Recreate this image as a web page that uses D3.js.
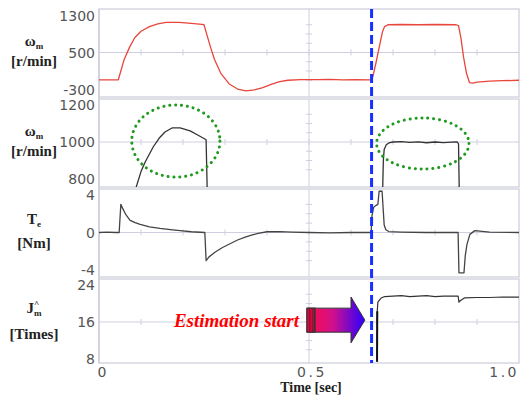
<!DOCTYPE html>
<html><head><meta charset="utf-8">
<script src="https://cdn.jsdelivr.net/npm/d3@7"></script>
<style>body{margin:0;background:#fff}svg{display:block}</style>
</head><body>
<script>
// ---- data ----
const xTicks = [0, 0.5, 1.0];
const xTickLabels = ["0", "0.5", "1.0"];

const speedT = [0,0.046,0.052,0.060,0.072,0.085,0.10,0.12,0.14,0.16,0.19,0.22,0.245,0.250,0.258,0.266,0.275,0.29,0.31,0.33,0.35,0.37,0.39,0.41,0.43,0.45,0.48,0.52,0.55,0.58,0.61,0.648,0.652,0.66,0.668,0.675,0.68,0.688,0.72,0.76,0.80,0.85,0.856,0.862,0.868,0.875,0.882,0.89,0.90,0.93,0.96,1.0];
const speedV = [-90,-90,100,350,600,820,960,1060,1120,1150,1150,1130,1110,1100,850,600,350,50,-180,-290,-330,-310,-260,-190,-130,-100,-85,-85,-80,-90,-85,-90,-20,300,650,950,1060,1100,1105,1100,1105,1100,1080,800,400,50,-150,-160,-140,-120,-110,-100];

const zoomT = [0.085,0.100,0.110,0.129,0.143,0.157,0.174,0.193,0.217,0.235,0.252,0.255,0.258, null, 0.675,0.677,0.679,0.684,0.690,0.700,0.720,0.740,0.760,0.780,0.800,0.820,0.840,0.853,0.856,0.858];
const zoomV = [730,840,892,973,1020,1054,1076,1076,1060,1038,1016,1012,700, null, 700,900,960,985,995,1000,1002,998,1001,996,1000,997,999,1000,990,700];

const torqueT = [0,0.02,0.04,0.048,0.052,0.056,0.064,0.074,0.086,0.098,0.12,0.145,0.17,0.193,0.22,0.252,0.255,0.262,0.276,0.294,0.312,0.33,0.348,0.365,0.379,0.40,0.43,0.46,0.5,0.55,0.6,0.648,0.650,0.654,0.660,0.664,0.667,0.674,0.679,0.683,0.69,0.72,0.78,0.855,0.857,0.869,0.872,0.876,0.883,0.895,0.93,1.0];
const torqueV = [0,0.05,0,0,3.0,2.6,1.9,1.3,1.05,0.86,0.6,0.43,0.3,0.2,0.08,0,-3.0,-2.6,-2.1,-1.6,-1.2,-0.8,-0.5,-0.25,-0.1,0.08,0.1,0.05,0,-0.05,0,0,1.8,2.7,2.9,3.0,4.4,4.4,0.8,0.3,0.1,0.05,0,0,-4.3,-4.3,-2.5,-1.3,-0.2,0.2,0.05,0];

const inertiaT = [0.662,0.6625,0.664,0.672,0.68,0.70,0.72,0.74,0.76,0.78,0.80,0.82,0.84,0.855,0.857,0.860,0.87,0.90,0.93,0.96,1.0];
const inertiaV = [7.4,18.3,20.3,21.2,21.5,21.6,21.7,21.5,21.6,21.7,21.5,21.6,21.6,21.6,20.3,20.6,21.2,21.3,21.3,21.4,21.4];

const panelTicks = [[-300,500,1300],[800,1000,1200],[-4,0,4],[8,16,24]];
const estimationT = 0.649;
const annotationText = "Estimation start";

// ---- layout ----
const W = 521, H = 401;
const svg = d3.select("body").append("svg").attr("width", W).attr("height", H);
const x = d3.scaleLinear().domain([0,1]).range([99,519]);

const panels = [
  {top:9, bottom:97, yHi:15.5, yLo:89.5},
  {top:99, bottom:187, yHi:105, yLo:179},
  {top:189, bottom:277, yHi:195, yLo:270},
  {top:279, bottom:363, yHi:285, yLo:359}
];
const gridCol = "#cfcfe2";
panels.forEach((p,i) => {
  const tk = panelTicks[i];
  p.y = d3.scaleLinear().domain([tk[0], tk[2]]).range([p.yLo, p.yHi]);
  svg.append("rect").attr("x",99).attr("y",p.top).attr("width",420).attr("height",p.bottom-p.top)
    .attr("fill","none").attr("stroke","#d6d6e2").attr("stroke-width",1.5);
  const g = svg.append("g");
  const ym = p.y(tk[1]);
  g.append("line").attr("x1",99).attr("x2",519).attr("y1",ym).attr("y2",ym).attr("stroke",gridCol).attr("stroke-width",1);
  g.append("line").attr("x1",x(0.5)).attr("x2",x(0.5)).attr("y1",p.top).attr("y2",p.bottom).attr("stroke",gridCol).attr("stroke-width",1);
  d3.range(1,10).forEach(k => {
    g.append("line").attr("x1",x(k/10)).attr("x2",x(k/10)).attr("y1",ym-3).attr("y2",ym+3).attr("stroke",gridCol);
  });
  const step = (tk[2]-tk[0])/8;
  [-3,-2,-1,1,2,3].forEach(k => {
    const yy = p.y(tk[1]+k*step);
    g.append("line").attr("x1",x(0.5)-3).attr("x2",x(0.5)+3).attr("y1",yy).attr("y2",yy).attr("stroke",gridCol);
  });
  tk.forEach(v => {
    svg.append("text").attr("x",95).attr("y",p.y(v)).attr("text-anchor","end").attr("dominant-baseline","central")
      .attr("font-family","DejaVu Sans").attr("font-size",14).attr("fill","#555").text(v);
  });
  svg.append("clipPath").attr("id","clip"+i).append("rect").attr("x",99).attr("y",p.top).attr("width",421).attr("height",p.bottom-p.top);
});
svg.append("line").attr("x1",99).attr("x2",99).attr("y1",9).attr("y2",363).attr("stroke","#cfcfdc").attr("stroke-width",1.5);

// x tick labels
xTicks.forEach((t,i) => {
  const last = i === xTicks.length-1;
  svg.append("text").attr("x", last ? 519 : x(t)+3).attr("y",372).attr("text-anchor", last ? "end" : "middle").attr("dominant-baseline","central")
    .attr("font-family","DejaVu Sans").attr("font-size",14).attr("letter-spacing", i===0?0:2.5).attr("fill","#555").text(xTickLabels[i]);
});
svg.append("text").attr("x",311).attr("y",392).attr("text-anchor","middle")
  .attr("font-family","Liberation Serif").attr("font-weight","bold").attr("font-size",14).attr("fill","#222").text("Time [sec]");

// y labels
function yLabel(i, main, sub, sup, unit, dy1, dy2) {
  const p = panels[i];
  const t = svg.append("text").attr("x",34).attr("y",p.top+dy1).attr("text-anchor","middle")
    .attr("font-family","Liberation Serif").attr("font-weight","bold").attr("font-size",15).attr("fill","#222");
  t.append("tspan").text(main);
  if (sup) t.append("tspan").attr("font-size",9).attr("dy",-6).text(sup);
  if (sub) t.append("tspan").attr("font-size",9).attr("dy", sup?9:3).attr("dx", sup?-5:0).text(sub);
  svg.append("text").attr("x",34).attr("y",p.top+dy2).attr("text-anchor","middle")
    .attr("font-family","Liberation Serif").attr("font-weight","bold").attr("font-size",15).attr("fill","#222").text(unit);
}
yLabel(0,"ω","m",null,"[r/min]",37,57);
yLabel(1,"ω","m",null,"[r/min]",37,57);
yLabel(2,"T","e",null,"[Nm]",35,59);
yLabel(3,"J","m","^","[Times]",34,60);

// series
function drawSeries(i, T, V, color, w) {
  const p = panels[i];
  const data = T.map((t,k) => ({t, v:V[k]}));
  const line = d3.line().defined(d => d.t !== null && d.v !== null).x(d => x(d.t)).y(d => p.y(d.v));
  svg.append("path").attr("clip-path","url(#clip"+i+")").datum(data).attr("d",line)
    .attr("fill","none").attr("stroke",color).attr("stroke-width",w).attr("stroke-linejoin","round");
}
drawSeries(0, speedT, speedV, "#e8463c", 1.3);
drawSeries(1, zoomT, zoomV, "#333", 1.3);
drawSeries(2, torqueT, torqueV, "#444", 1.3);
drawSeries(3, inertiaT, inertiaV, "#333", 1.2);
svg.append("line").attr("x1",x(inertiaT[0])).attr("x2",x(inertiaT[1])).attr("y1",panels[3].y(inertiaV[0])).attr("y2",panels[3].y(inertiaV[1]))
  .attr("stroke","#111").attr("stroke-width",2).attr("clip-path","url(#clip3)");

// ellipses
const p2 = panels[1];
[[0.183,1005,0.105,195],[0.771,992,0.11,138]].forEach(e => {
  svg.append("ellipse").attr("cx",x(e[0])).attr("cy",p2.y(e[1]))
    .attr("rx",x(e[2])-x(0)).attr("ry",p2.y(0)-p2.y(e[3]))
    .attr("fill","none").attr("stroke","#1f9a1f").attr("stroke-width",3)
    .attr("stroke-dasharray","0.1,5.8").attr("stroke-linecap","round");
});

// dashed blue line
svg.append("line").attr("x1",x(estimationT)).attr("x2",x(estimationT)).attr("y1",9).attr("y2",363)
  .attr("stroke","#1530ff").attr("stroke-width",3).attr("stroke-dasharray","9,4");

// arrow
const p4 = panels[3];
const defs = svg.append("defs");
const grad = defs.append("linearGradient").attr("id","ag").attr("x1","0%").attr("x2","100%");
grad.append("stop").attr("offset","0%").attr("stop-color","#ff0a46");
grad.append("stop").attr("offset","45%").attr("stop-color","#d0108c");
grad.append("stop").attr("offset","100%").attr("stop-color","#2a00ff");
const ax0 = x(0.495), ax1 = x(0.6), ax2 = x(0.633);
const by0 = p4.y(19.0), by1 = p4.y(13.8), hy0 = p4.y(21.4), hy1 = p4.y(11.5), ty = p4.y(16.4);
svg.append("path").attr("d",`M${ax0},${by0}L${ax1},${by0}L${ax1},${hy0}L${ax2},${ty}L${ax1},${hy1}L${ax1},${by1}L${ax0},${by1}Z`)
  .attr("fill","url(#ag)").attr("stroke","#333").attr("stroke-width",1);
svg.append("rect").attr("x",ax0).attr("y",by0).attr("width",8).attr("height",by1-by0).attr("fill","#e8003c").attr("stroke","#333").attr("stroke-width",1);
[ax0+3, ax0+6, ax0+8].forEach(xx => svg.append("line").attr("x1",xx).attr("x2",xx).attr("y1",by0).attr("y2",by1).attr("stroke","#333").attr("stroke-width",1));

svg.append("text").attr("x",299).attr("y",327).attr("text-anchor","end")
  .attr("font-family","Liberation Serif").attr("font-weight","bold").attr("font-style","italic")
  .attr("font-size",19).attr("fill","#ff0000").text(annotationText);
</script>
</body></html>
